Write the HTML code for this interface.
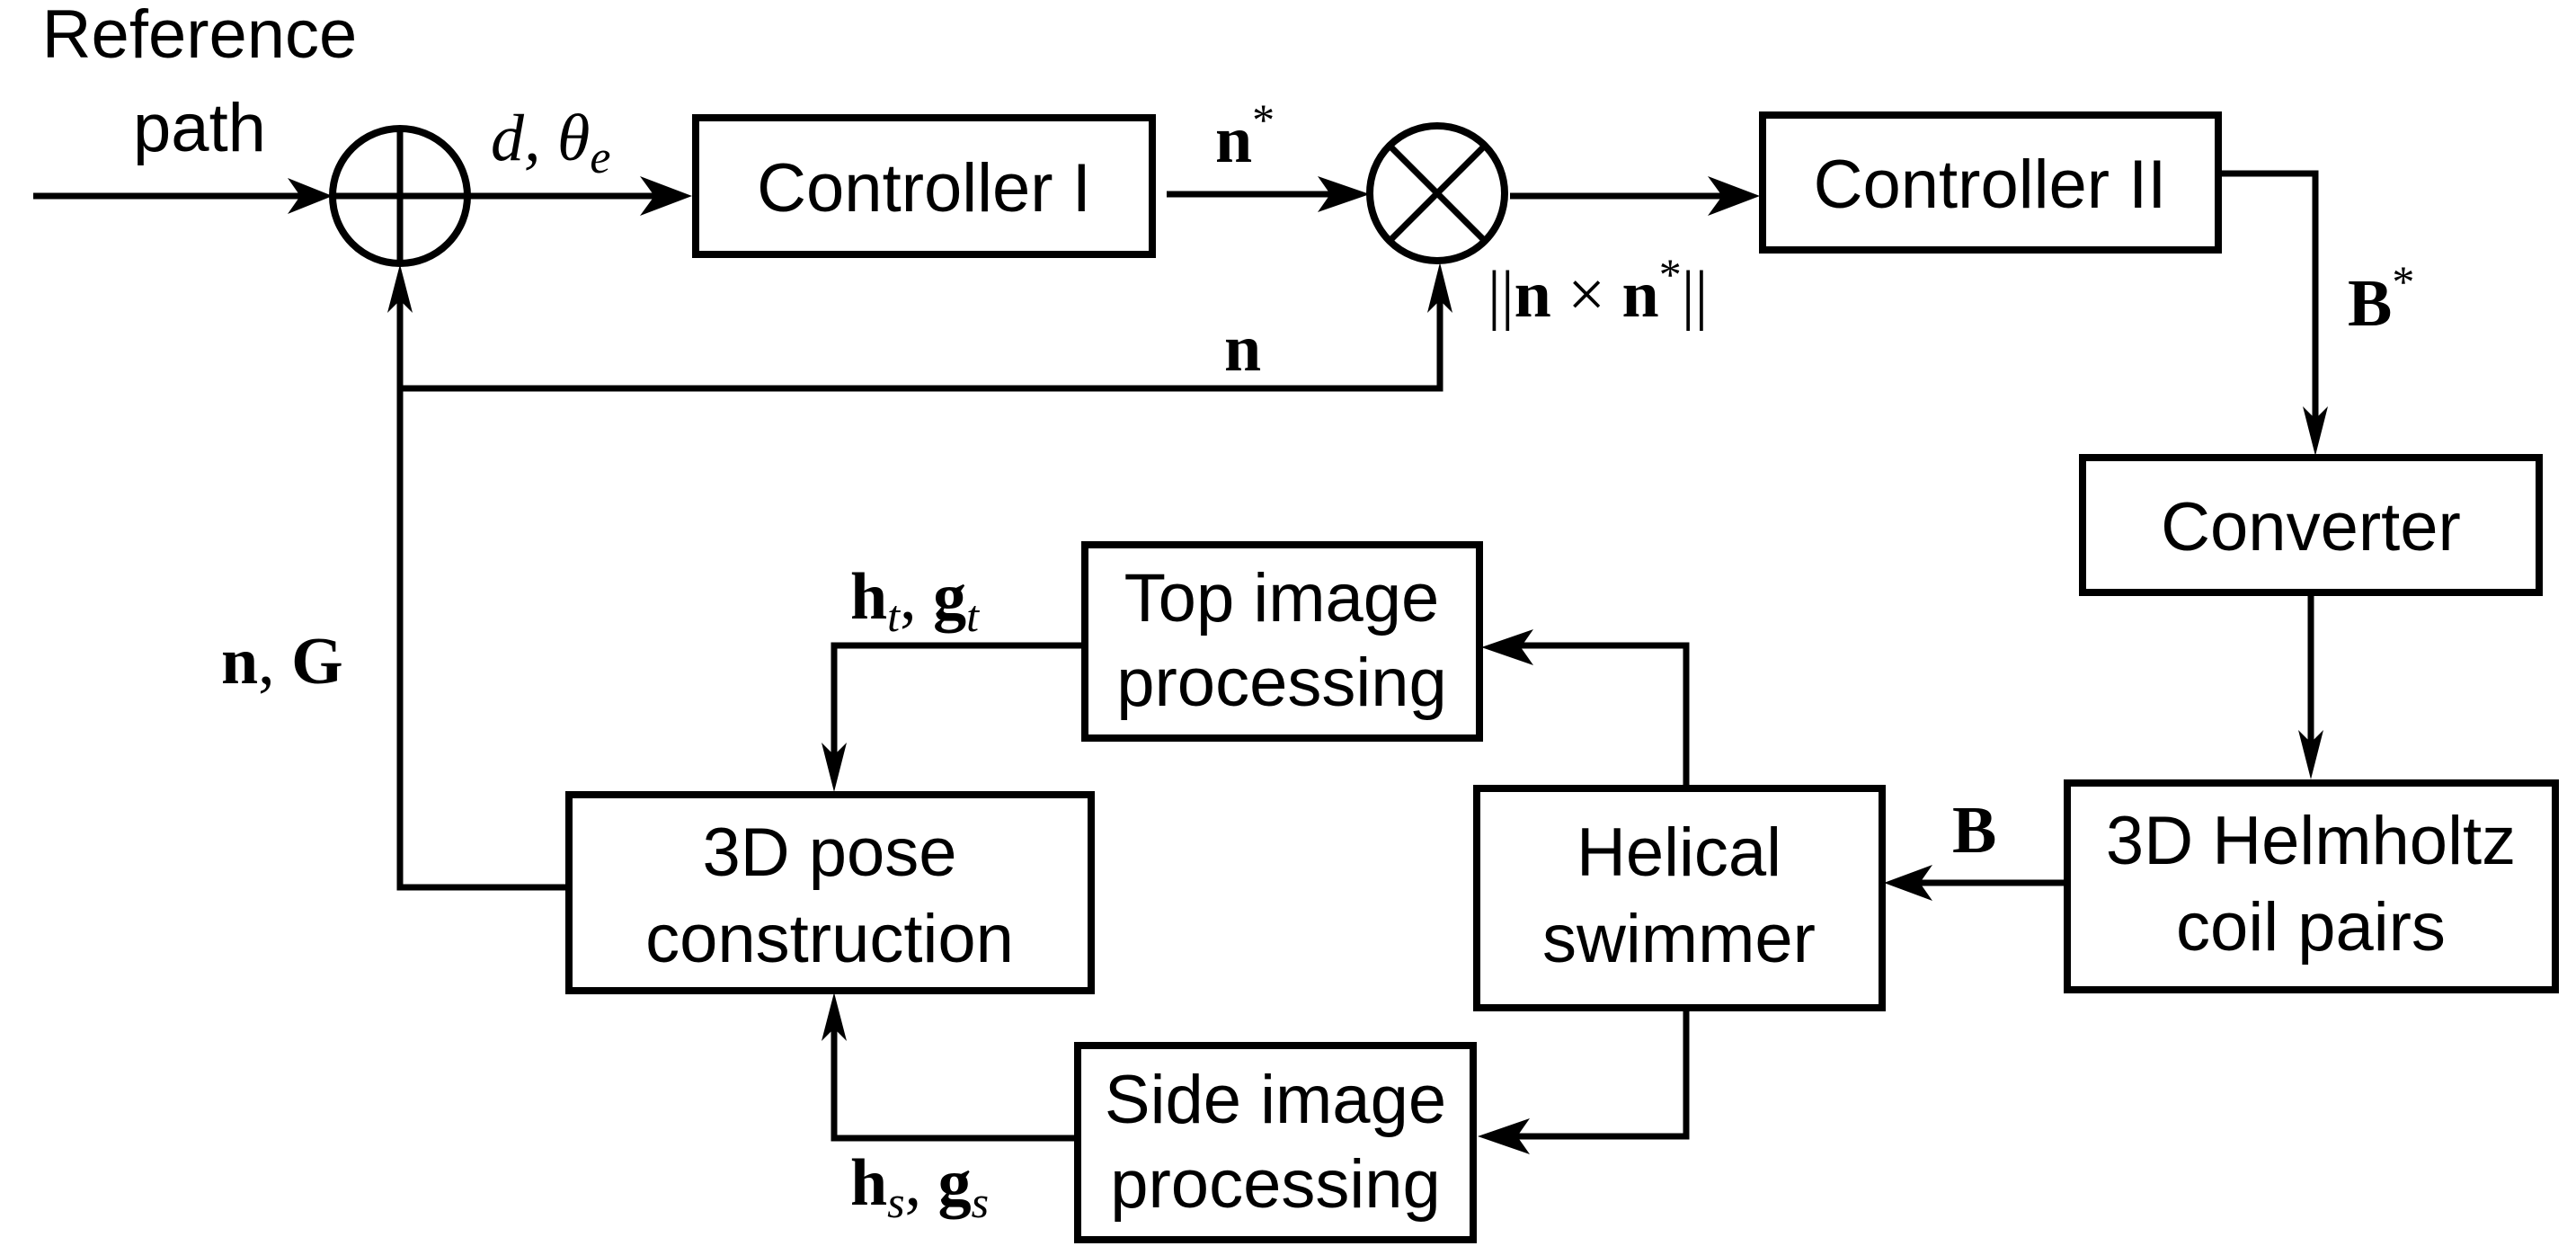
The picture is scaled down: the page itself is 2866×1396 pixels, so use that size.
<!DOCTYPE html>
<html><head><meta charset="utf-8"><style>
html,body{margin:0;padding:0;background:#fff;}
svg{display:block}
.box{fill:none;stroke:#000;stroke-width:8}
.ln{fill:none;stroke:#000;stroke-width:7}
.t{font-family:"Liberation Sans",sans-serif;font-size:76px;text-anchor:middle}
.m{font-family:"Liberation Serif",serif;font-size:74px}
</style></head><body>
<svg width="2866" height="1396" viewBox="0 0 2866 1396" xmlns="http://www.w3.org/2000/svg">
<defs>
<marker id="a" viewBox="0 0 20 20" refX="19" refY="10" markerWidth="9" markerHeight="9" markerUnits="userSpaceOnUse" orient="auto" style="overflow:visible">
<path d="M0,0 L20,10 L0,20 L6,10 Z" fill="#000" transform="scale(3.2) translate(-14,-7) translate(14,7) translate(-13.8,-6.9)"/>
</marker>
</defs>
<g id="arrows"></g>
<!-- text top-left -->
<text x="222" y="64" class="t" font-size="68">Reference</text>
<text x="222" y="168" class="t" font-size="68">path</text>

<!-- sum circle -->
<circle cx="445" cy="218" r="75" class="box" stroke-width="7"/>
<line x1="445" y1="143" x2="445" y2="293" class="ln" stroke-width="5"/>
<line x1="370" y1="218" x2="520" y2="218" class="ln" stroke-width="5"/>

<!-- input -->
<line x1="37" y1="218" x2="350" y2="218" class="ln"/>
<path d="M370,218 L320,198 L334,218 L320,238 Z"/>
<!-- sum -> controller I -->
<line x1="520" y1="218" x2="740" y2="218" class="ln"/>
<path d="M770,218 L712,196 L728,218 L712,240 Z"/>
<text x="546" y="178" class="m" font-style="italic">d, θ<tspan font-size="52" dy="14">e</tspan></text>

<!-- Controller I -->
<rect x="774" y="131" width="508" height="152" class="box"/>
<text x="1028" y="235" class="t">Controller I</text>

<!-- to multiply -->
<line x1="1298" y1="216" x2="1500" y2="216" class="ln"/>
<path d="M1524,216 L1466,196 L1480,216 L1466,236 Z"/>
<text x="1352" y="180" class="m" font-weight="bold">n<tspan font-size="50" dy="-30" font-weight="normal">*</tspan></text>

<!-- multiply circle -->
<circle cx="1599" cy="215" r="75" class="box" stroke-width="7"/>
<line x1="1546" y1="162" x2="1652" y2="268" class="ln" stroke-width="5"/>
<line x1="1652" y1="162" x2="1546" y2="268" class="ln" stroke-width="5"/>

<!-- multiply -> controller II -->
<line x1="1680" y1="218" x2="1930" y2="218" class="ln"/>
<path d="M1958,218 L1900,196 L1916,218 L1900,240 Z"/>
<text x="1655" y="352" class="m">||<tspan font-weight="bold">n</tspan> × <tspan font-weight="bold">n</tspan><tspan font-size="50" dy="-30">*</tspan><tspan dy="30">||</tspan></text>

<!-- Controller II -->
<rect x="1961" y="128" width="507" height="150" class="box"/>
<text x="2214" y="231" class="t">Controller II</text>

<!-- controller II -> converter -->
<polyline points="2470,193 2576,193 2576,480" class="ln"/>
<path d="M2576,507 L2562,452 L2576,466 L2590,452 Z"/>
<text x="2612" y="362" class="m" font-weight="bold">B<tspan font-size="50" dy="-32" font-weight="normal">*</tspan></text>

<!-- Converter -->
<rect x="2317" y="509" width="508" height="150" class="box"/>
<text x="2571" y="612" class="t">Converter</text>

<!-- converter -> helmholtz -->
<line x1="2571" y1="661" x2="2571" y2="840" class="ln" stroke-width="6"/>
<path d="M2571,867 L2557,812 L2571,826 L2585,812 Z"/>

<!-- Helmholtz -->
<rect x="2300" y="871" width="543" height="230" class="box"/>
<text x="2571" y="961" class="t">3D Helmholtz</text>
<text x="2571" y="1057" class="t">coil pairs</text>

<!-- helmholtz -> swimmer -->
<line x1="2297" y1="982" x2="2120" y2="982" class="ln"/>
<path d="M2096,982 L2150,962 L2136,982 L2150,1002 Z"/>
<text x="2172" y="948" class="m" font-weight="bold">B</text>

<!-- Helical swimmer -->
<rect x="1643" y="877" width="451" height="244" class="box"/>
<text x="1868" y="974" class="t">Helical</text>
<text x="1868" y="1070" class="t">swimmer</text>

<!-- swimmer -> top image -->
<polyline points="1876,877 1876,718 1672,718" class="ln" stroke-width="6"/>
<path d="M1648,720 L1706,700 L1692,720 L1706,740 Z"/>
<!-- swimmer -> side image -->
<polyline points="1876,1121 1876,1264 1672,1264" class="ln" stroke-width="6"/>
<path d="M1644,1264 L1702,1244 L1688,1264 L1702,1284 Z"/>

<!-- Top image processing -->
<rect x="1207" y="606" width="439" height="215" class="box"/>
<text x="1426" y="691" class="t">Top image</text>
<text x="1426" y="785" class="t">processing</text>
<text x="946" y="688" class="m" font-weight="bold">h<tspan font-size="50" dy="14" font-style="italic" font-weight="normal">t</tspan><tspan dy="-14" font-weight="normal">, </tspan>g<tspan font-size="50" dy="14" font-style="italic" font-weight="normal">t</tspan></text>

<!-- top image -> pose -->
<polyline points="1207,718 928,718 928,850" class="ln" stroke-width="6"/>
<path d="M928,881 L914,826 L928,840 L942,826 Z"/>

<!-- Side image processing -->
<rect x="1199" y="1163" width="440" height="216" class="box"/>
<text x="1419" y="1249" class="t">Side image</text>
<text x="1419" y="1343" class="t">processing</text>
<text x="946" y="1340" class="m" font-weight="bold">h<tspan font-size="50" dy="14" font-style="italic" font-weight="normal">s</tspan><tspan dy="-14" font-weight="normal">, </tspan>g<tspan font-size="50" dy="14" font-style="italic" font-weight="normal">s</tspan></text>

<!-- side image -> pose -->
<polyline points="1199,1266 928,1266 928,1132" class="ln" stroke-width="6"/>
<path d="M928,1104 L914,1158 L928,1144 L942,1158 Z"/>

<!-- 3D pose -->
<rect x="633" y="884" width="581" height="218" class="box"/>
<text x="923" y="974" class="t">3D pose</text>
<text x="923" y="1070" class="t">construction</text>

<!-- feedback -->
<polyline points="631,987 445,987 445,322" class="ln" stroke-width="6"/>
<path d="M445,294 L431,348 L445,334 L459,348 Z"/>
<polyline points="445,432 1602,432 1602,320" class="ln"/>
<path d="M1602,292 L1588,348 L1602,334 L1616,348 Z"/>
<text x="1362" y="412" class="m" font-weight="bold">n</text>
<text x="246" y="760" class="m" font-weight="bold">n<tspan font-weight="normal">, </tspan>G</text>
</svg>
</body></html>
